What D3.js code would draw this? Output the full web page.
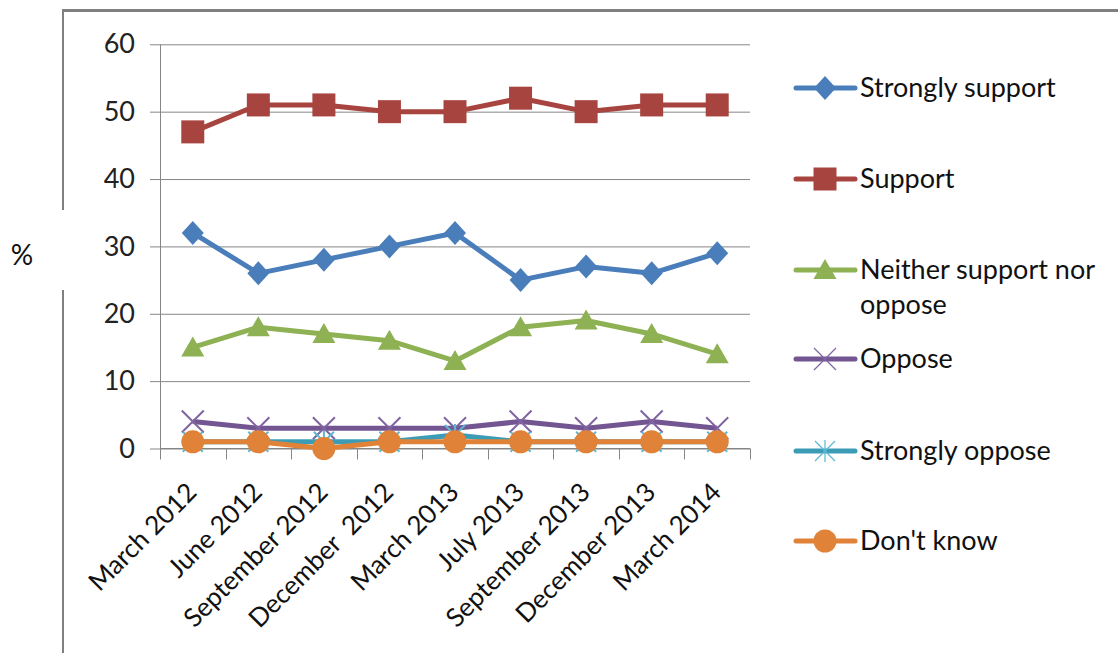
<!DOCTYPE html>
<html>
<head>
<meta charset="utf-8">
<script src="https://cdn.jsdelivr.net/npm/d3@7/dist/d3.min.js"></script>
<style>
  html, body { margin: 0; padding: 0; background: #fff; }
  svg { display: block; font-family: Lato, "Open Sans", sans-serif; }
</style>
</head>
<body>
<svg id="chart" width="1118" height="653"></svg>
<script>
// Survey waves
const waves = ["March 2012", "June 2012", "September 2012", "December  2012", "March 2013",
               "July 2013", "September 2013", "December 2013", "March 2014"];

// Percentages per answer, one array per series
const stronglySupport = [32, 26, 28, 30, 32, 25, 27, 26, 29];
const support         = [47, 51, 51, 50, 50, 52, 50, 51, 51];
const neither         = [15, 18, 17, 16, 13, 18, 19, 17, 14];
const oppose          = [4, 3, 3, 3, 3, 4, 3, 4, 3];
const stronglyOppose  = [1, 1, 1, 1, 2, 1, 1, 1, 1];
const dontKnow        = [1, 1, 0, 1, 1, 1, 1, 1, 1];

const yTicks = [0, 10, 20, 30, 40, 50, 60];

const series = [
  { name: ["Strongly support"], values: stronglySupport, color: "#4A7EBB", marker: "diamond" },
  { name: ["Support"], values: support, color: "#A8443F", marker: "square" },
  { name: ["Neither support nor", "oppose"], values: neither, color: "#8DB153", marker: "triangle" },
  { name: ["Oppose"], values: oppose, color: "#735591", marker: "cross", markerColor: "#8064A2" },
  { name: ["Strongly oppose"], values: stronglyOppose, color: "#3C9CB5", marker: "star", markerColor: "#5BB8D3" },
  { name: ["Don't know"], values: dontKnow, color: "#E08238", marker: "circle" }
];

const FONT = 27;
const svg = d3.select("#chart");
const gridColor = "#868686";

// Outer frame: top edge and left edge with a break behind the "%" label
svg.append("line").attr("x1", 63).attr("x2", 1118).attr("y1", 10.5).attr("y2", 10.5)
  .attr("stroke", "#808080").attr("stroke-width", 3);
svg.append("line").attr("x1", 63).attr("x2", 63).attr("y1", 9).attr("y2", 210)
  .attr("stroke", "#808080").attr("stroke-width", 2);
svg.append("line").attr("x1", 63).attr("x2", 63).attr("y1", 290).attr("y2", 653)
  .attr("stroke", "#808080").attr("stroke-width", 2);

const plot = { left: 160, right: 750, top: 44.3, bottom: 448.5 };

const x = d3.scaleBand().domain(waves).range([plot.left, plot.right]).paddingInner(0).paddingOuter(0);
const y = d3.scaleLinear().domain([0, 60]).range([plot.bottom, plot.top]);
const cx = d => x(d) + x.bandwidth() / 2;

// Horizontal gridlines with outward tick marks
const yAxis = d3.axisLeft(y).tickValues(yTicks).tickSize(plot.right - plot.left + 10).tickFormat(d => d)
  .tickPadding(15);
const gy = svg.append("g").attr("transform", `translate(${plot.right},0)`).call(yAxis);
gy.select(".domain").remove();
gy.selectAll(".tick line").attr("stroke", gridColor).attr("stroke-width", 1);
gy.selectAll(".tick text").attr("fill", "#222").attr("font-size", FONT).attr("font-family", "Lato, sans-serif");

// Vertical axis line
svg.append("line").attr("x1", plot.left + 0.5).attr("x2", plot.left + 0.5)
  .attr("y1", plot.top).attr("y2", plot.bottom).attr("stroke", gridColor);

// Category axis: ticks at band edges
const gx = svg.append("g").attr("transform", `translate(0,${plot.bottom})`);
gx.append("line").attr("x1", plot.left).attr("x2", plot.right).attr("stroke", gridColor);
const edges = waves.map(w => x(w)).concat([plot.right]);
gx.selectAll("line.edge").data(edges).join("line").attr("class", "edge")
  .attr("x1", d => Math.round(d) + 0.5).attr("x2", d => Math.round(d) + 0.5)
  .attr("y1", 0).attr("y2", 11).attr("stroke", gridColor);
gx.selectAll("text").data(waves).join("text")
  .attr("transform", d => `translate(${cx(d) - 1},${39}) rotate(-45)`)
  .attr("text-anchor", "end").attr("dy", "0.35em")
  .attr("font-size", 26).attr("fill", "#111")
  .attr("xml:space", "preserve").style("white-space", "pre")
  .text(d => d);

// Axis title
svg.append("text").attr("x", 22).attr("y", 255).attr("text-anchor", "middle").attr("dy", "0.35em")
  .attr("font-size", FONT + 1).attr("fill", "#111").text("%");

// Marker drawing
function drawMarker(g, type, color, mcolor) {
  mcolor = mcolor || color;
  switch (type) {
    case "diamond":
      g.append("path").attr("d", "M0,-12L11,0L0,12L-11,0Z").attr("fill", color);
      break;
    case "square":
      g.append("rect").attr("x", -11.5).attr("y", -11.5).attr("width", 23).attr("height", 23)
        .attr("fill", color);
      break;
    case "triangle":
      g.append("path").attr("d", "M0,-11L11.5,9L-11.5,9Z").attr("fill", color);
      break;
    case "cross":
      g.append("path").attr("d", "M-11,-11L11,11M-11,11L11,-11").attr("stroke", mcolor)
        .attr("stroke-width", 2).attr("fill", "none");
      break;
    case "star":
      g.append("path").attr("d", "M-10,-10L10,10M-10,10L10,-10M0,-11L0,11").attr("stroke", mcolor)
        .attr("stroke-width", 2).attr("fill", "none");
      break;
    case "circle":
      g.append("circle").attr("r", 11.5).attr("fill", color);
      break;
  }
}

const line = d3.line().x((d, i) => cx(waves[i])).y(d => y(d));

series.forEach(s => {
  const g = svg.append("g");
  g.append("path").attr("d", line(s.values)).attr("fill", "none")
    .attr("stroke", s.color).attr("stroke-width", 5).attr("stroke-linejoin", "round");
  s.values.forEach((v, i) => {
    const m = g.append("g").attr("transform", `translate(${cx(waves[i])},${y(v)})`);
    drawMarker(m, s.marker, s.color, s.markerColor);
  });
});

// Legend
const legendY = [88, 179, 270, 359, 451, 541];
series.forEach((s, i) => {
  const g = svg.append("g").attr("transform", `translate(0,${legendY[i]})`);
  g.append("line").attr("x1", 796).attr("x2", 855).attr("y1", 0).attr("y2", 0)
    .attr("stroke", s.color).attr("stroke-width", 5).attr("stroke-linecap", "round");
  const m = g.append("g").attr("transform", "translate(825,0)");
  drawMarker(m, s.marker, s.color, s.markerColor);
  if (s.marker === "cross" || s.marker === "star") m.selectAll("path").attr("stroke-width", 1.2);
  const t = g.append("text").attr("x", 860).attr("y", 0)
    .attr("font-size", FONT).attr("fill", "#111");
  s.name.forEach((n, k) => t.append("tspan").attr("x", 860).attr("dy", k === 0 ? "0.35em" : "1.27em").text(n));
});
</script>
</body>
</html>
